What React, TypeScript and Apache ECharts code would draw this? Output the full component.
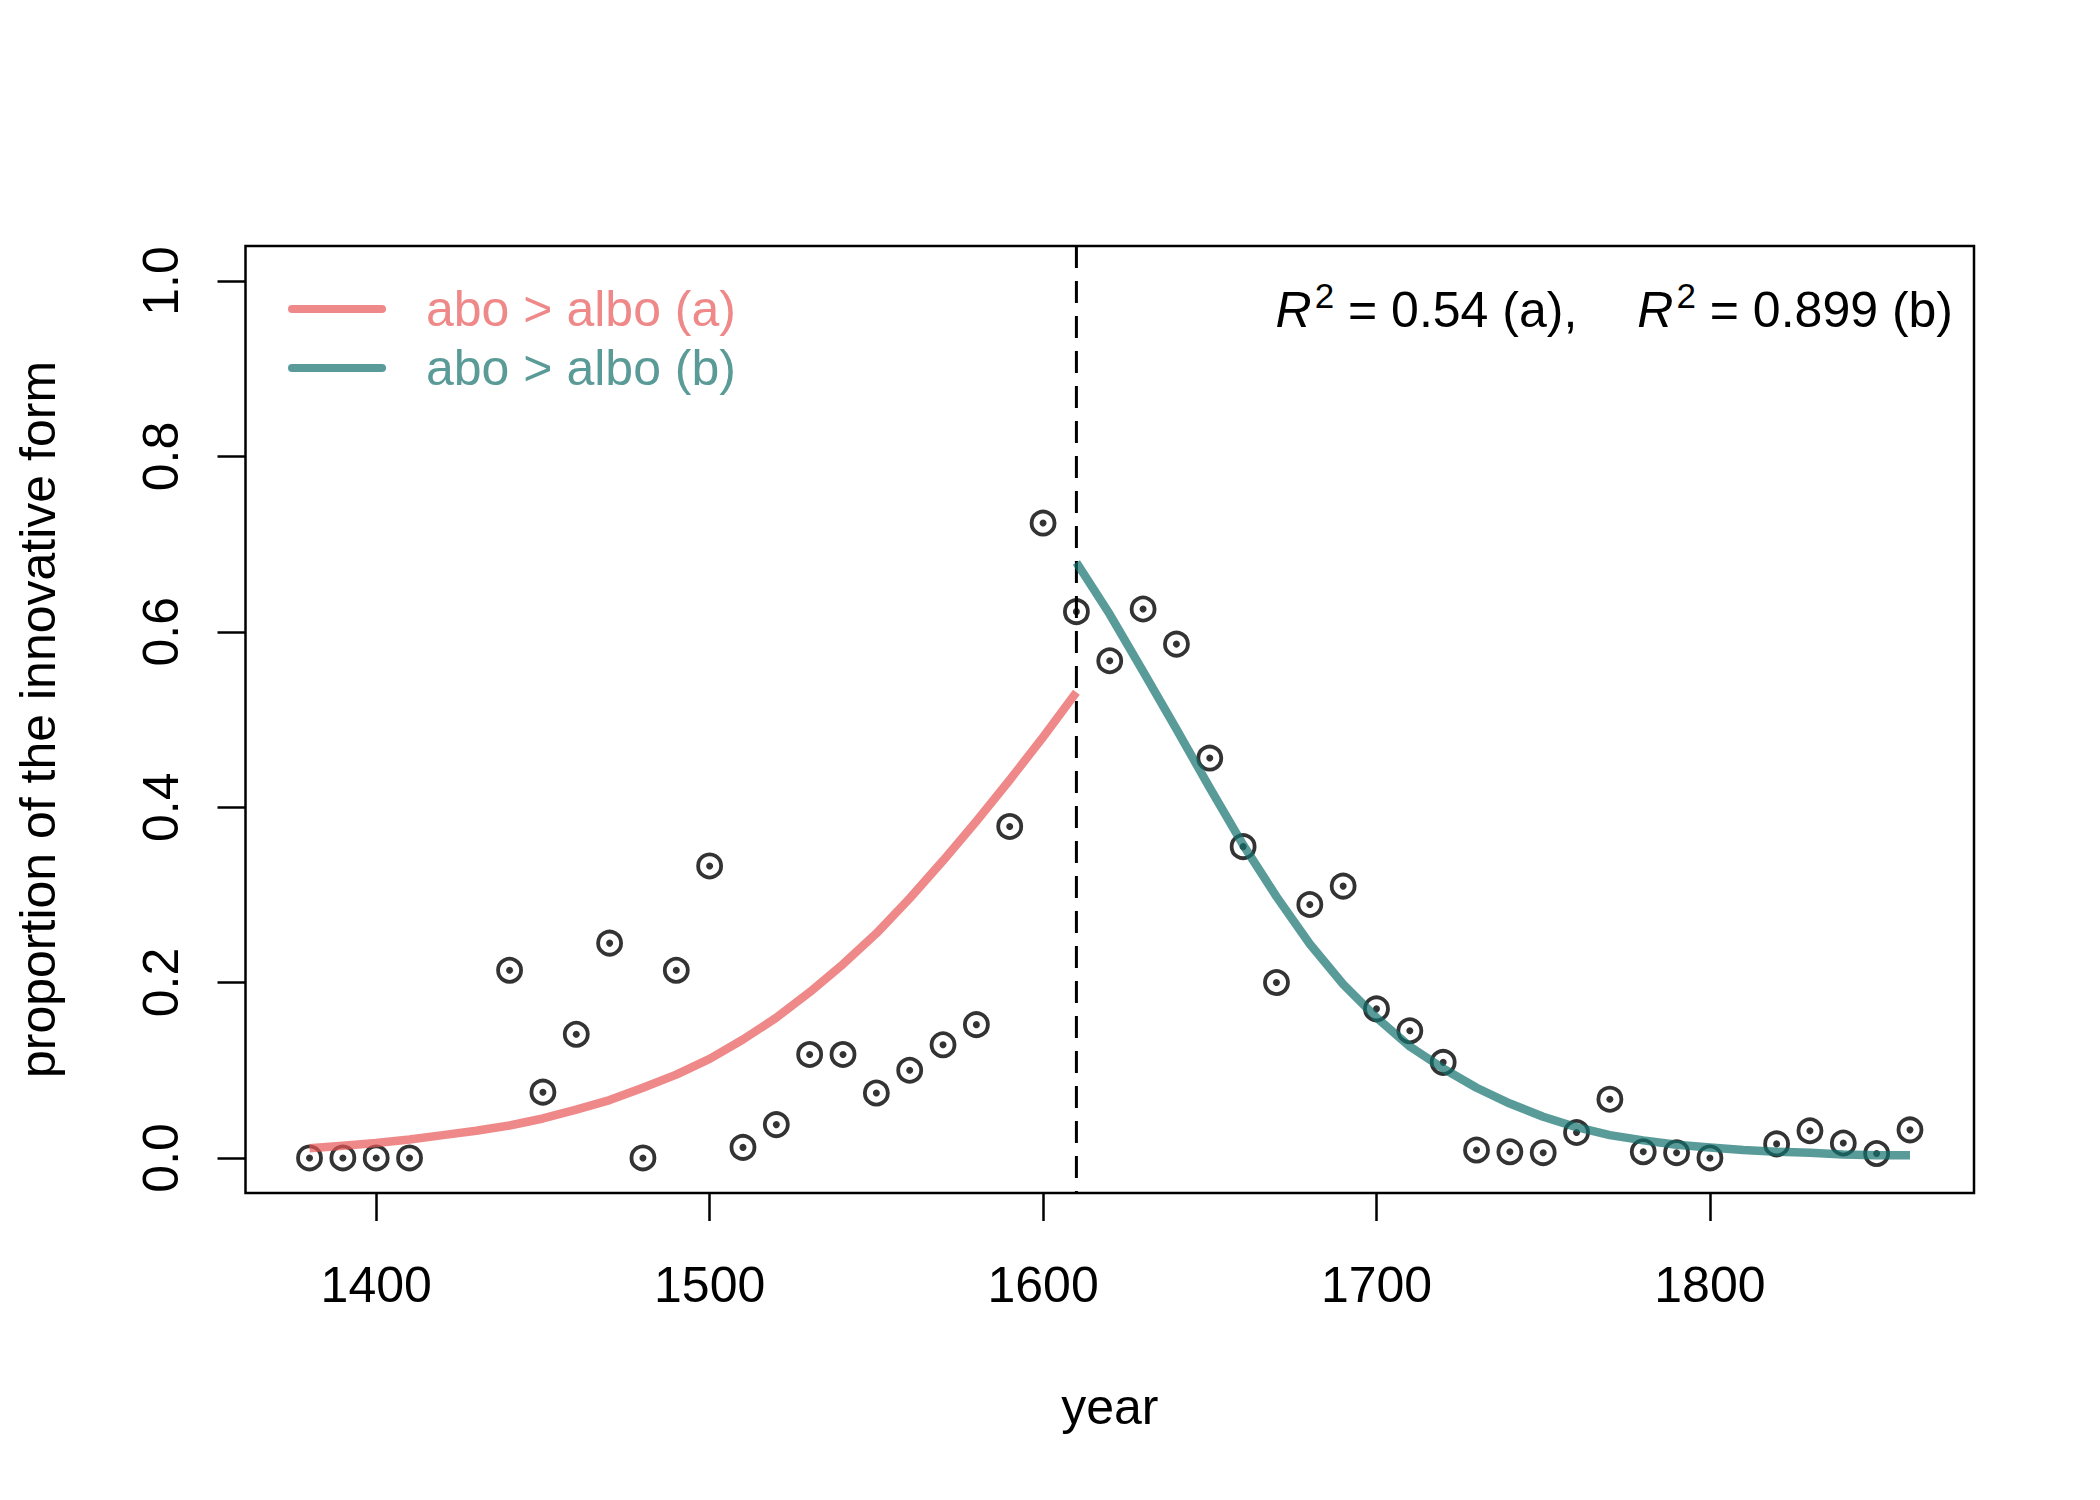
import React, { useEffect, useRef } from "react";
import * as echarts from "echarts";

// observed data
const years = [1380, 1390, 1400, 1410, 1440, 1450, 1460, 1470, 1480, 1490, 1500, 1510, 1520, 1530, 1540, 1550, 1560, 1570, 1580, 1590, 1600, 1610, 1620, 1630, 1640, 1650, 1660, 1670, 1680, 1690, 1700, 1710, 1720, 1730, 1740, 1750, 1760, 1770, 1780, 1790, 1800, 1820, 1830, 1840, 1850, 1860];
const proportions = [0, 0, 0, 0, 0.214, 0.075, 0.141, 0.245, 0, 0.214, 0.333, 0.012, 0.038, 0.118, 0.118, 0.074, 0.1, 0.129, 0.152, 0.378, 0.724, 0.623, 0.567, 0.626, 0.586, 0.456, 0.355, 0.2, 0.289, 0.31, 0.17, 0.145, 0.109, 0.009, 0.007, 0.006, 0.029, 0.067, 0.007, 0.006, 0, 0.016, 0.031, 0.017, 0.005, 0.032];

// fitted curve (a)
const fitYearsA = [1380, 1390, 1400, 1410, 1420, 1430, 1440, 1450, 1460, 1470, 1480, 1490, 1500, 1510, 1520, 1530, 1540, 1550, 1560, 1570, 1580, 1590, 1600, 1610];
const fitA = [0.011, 0.014, 0.017, 0.021, 0.026, 0.031, 0.037, 0.045, 0.055, 0.066, 0.08, 0.095, 0.113, 0.135, 0.16, 0.189, 0.221, 0.256, 0.296, 0.339, 0.384, 0.431, 0.48, 0.531];

// fitted curve (b)
const fitYearsB = [1610, 1620, 1630, 1640, 1650, 1660, 1670, 1680, 1690, 1700, 1710, 1720, 1730, 1740, 1750, 1760, 1770, 1780, 1790, 1800, 1810, 1820, 1830, 1840, 1850, 1860];
const fitB = [0.679, 0.62, 0.555, 0.489, 0.422, 0.357, 0.298, 0.244, 0.198, 0.16, 0.127, 0.102, 0.08, 0.062, 0.047, 0.035, 0.026, 0.02, 0.015, 0.012, 0.009, 0.007, 0.006, 0.004, 0.003, 0.003];

const breakYear = 1610;
const xTicks = [1400, 1500, 1600, 1700, 1800];
const yTicks = [0, 0.2, 0.4, 0.6, 0.8, 1.0];
const nameA = "abo > albo (a)";
const nameB = "abo > albo (b)";

const FONT = "'Liberation Sans', Arial, Helvetica, sans-serif";
const FS = 50;

export default function App() {
  const ref = useRef<HTMLDivElement>(null);
  useEffect(() => {
    document.body.style.margin = "0";
    const chart = echarts.init(ref.current!, null, { renderer: "svg" });
    const pts = years.map((y, i) => [y, proportions[i]]);
    chart.setOption({
      animation: false,
      backgroundColor: "#ffffff",
      textStyle: { fontFamily: FONT },
      grid: {
        left: 245.5,
        top: 246,
        width: 1728.5,
        height: 947,
        show: true,
        borderColor: "#000",
        borderWidth: 2.5,
        backgroundColor: "rgba(0,0,0,0)",
      },
      xAxis: {
        type: "value",
        min: 1360.8,
        max: 1879.2,
        axisLine: { show: false, onZero: false },
        splitLine: { show: false },
        axisTick: {
          show: true,
          inside: false,
          customValues: xTicks,
          length: 28,
          lineStyle: { color: "#000", width: 2.5 },
        },
        axisLabel: {
          customValues: xTicks,
          fontSize: FS,
          lineHeight: 50,
          margin: 67,
          color: "#000",
          fontFamily: FONT,
          formatter: (v: number) => String(v),
        },
        name: "year",
        nameLocation: "middle",
        nameGap: 189,
        nameTextStyle: { fontSize: FS, lineHeight: 50, color: "#000", fontFamily: FONT },
      },
      yAxis: {
        type: "value",
        min: -0.04,
        max: 1.04,
        axisLine: { show: false, onZero: false },
        splitLine: { show: false },
        axisTick: {
          show: true,
          inside: false,
          customValues: yTicks,
          length: 28,
          lineStyle: { color: "#000", width: 2.5 },
        },
        axisLabel: {
          customValues: yTicks,
          rotate: 90,
          fontSize: FS,
          lineHeight: 50,
          margin: 60,
          color: "#000",
          fontFamily: FONT,
          formatter: (v: number) => v.toFixed(1),
        },
        name: "proportion of the innovative form",
        nameLocation: "middle",
        nameGap: 183,
        nameRotate: 90,
        nameTextStyle: { fontSize: FS, lineHeight: 50, color: "#000", fontFamily: FONT },
      },
      legend: {
        data: [
          { name: nameA, textStyle: { color: "#EF8888" } },
          { name: nameB, textStyle: { color: "#5A9B98" } },
        ],
        orient: "vertical",
        left: 283,
        top: 279,
        itemWidth: 98,
        itemHeight: 8,
        itemGap: 9,
        icon: "path://M4,0 H94 A4,4 0 0 1 94,8 H4 A4,4 0 0 1 4,0 Z",
        textStyle: { fontSize: FS, lineHeight: 50, fontFamily: FONT, padding: [0, 0, 0, 35] },
        selectedMode: false,
      },
      graphic: [
        {
          type: "text",
          x: 1953,
          y: 310,
          z: 100,
          style: {
            text: "{i|R}{s|2}{n| = 0.54 (a),}{g|}{i|R}{s|2}{n| = 0.899 (b)}",
            align: "right",
            verticalAlign: "middle",
            fill: "#000",
            font: `${FS}px ${FONT}`,
            rich: {
              i: { fontStyle: "italic", fontSize: FS, fontFamily: FONT, lineHeight: 64 },
              n: { fontSize: FS, fontFamily: FONT, lineHeight: 64 },
              s: { fontSize: 35, fontFamily: FONT, lineHeight: 35, verticalAlign: "top", padding: [0, 0, 0, 3] },
              g: { width: 60, lineHeight: 64 },
            },
          },
        },
      ],
      series: [
        {
          type: "scatter",
          data: pts,
          symbol: "circle",
          symbolSize: 23,
          itemStyle: { color: "rgba(0,0,0,0)", borderColor: "#000", borderWidth: 3.8 },
          z: 2,
          silent: true,
        },
        {
          type: "scatter",
          data: pts,
          symbol: "circle",
          symbolSize: 7,
          itemStyle: { color: "#000" },
          z: 3,
          silent: true,
        },
        {
          type: "line",
          data: [
            [breakYear, 1.04],
            [breakYear, -0.04],
          ],
          showSymbol: false,
          lineStyle: { color: "#000", width: 3, type: [22, 13] },
          z: 4,
          silent: true,
        },
        {
          name: nameA,
          type: "line",
          data: fitYearsA.map((y, i) => [y, fitA[i]]),
          showSymbol: false,
          smooth: false,
          color: "rgba(232,85,85,0.7)",
          lineStyle: { color: "rgba(232,85,85,0.7)", width: 8.5, cap: "butt", join: "round" },
          z: 5,
          silent: true,
        },
        {
          name: nameB,
          type: "line",
          data: fitYearsB.map((y, i) => [y, fitB[i]]),
          showSymbol: false,
          smooth: false,
          color: "rgba(19,112,108,0.7)",
          lineStyle: { color: "rgba(19,112,108,0.7)", width: 8.5, cap: "butt", join: "round" },
          z: 5,
          silent: true,
        },
      ],
    });
    return () => chart.dispose();
  }, []);
  return <div ref={ref} style={{ width: 2100, height: 1500 }} />;
}
